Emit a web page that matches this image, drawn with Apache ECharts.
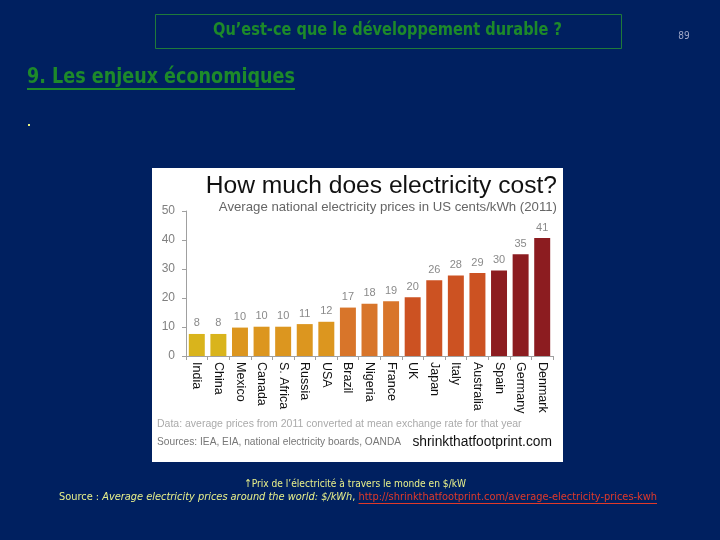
<!DOCTYPE html>
<html>
<head>
<meta charset="utf-8">
<style>
  html, body { margin: 0; padding: 0; background: #002060; }
  #chart { width: 720px; height: 540px; }
</style>
<script src="https://cdn.jsdelivr.net/npm/echarts@6/dist/echarts.min.js"></script>
</head>
<body>
<div id="chart"></div>
<script>
// ---- data ----
const countries = ["India", "China", "Mexico", "Canada", "S. Africa", "Russia", "USA", "Brazil", "Nigeria", "France", "UK", "Japan", "Italy", "Australia", "Spain", "Germany", "Denmark"];
const prices = [7.6, 7.6, 9.8, 10.1, 10.1, 11.0, 11.8, 16.7, 18.0, 18.9, 20.3, 26.1, 27.8, 28.6, 29.5, 35.1, 40.7];
const yTicks = [0, 10, 20, 30, 40, 50];

// ---- style ----
const barColors = ["#d9b41c", "#d9b41c", "#dc961f", "#dc961f", "#dc961f", "#dc961f", "#dc961f",
  "#d8752a", "#d8752a", "#d8752a", "#cc5222", "#cc5222", "#cc5222", "#cc5222", "#8c1c20", "#8c1c20", "#8c1c20"];

const cond = '"DejaVu Sans Condensed", "DejaVu Sans", sans-serif';
const sans = '"Liberation Sans", "DejaVu Sans", sans-serif';

const mctx = document.createElement('canvas').getContext('2d');
function measure(text, font) { mctx.font = font; return mctx.measureText(text).width; }

// text fitted horizontally to a target width
function fitText(text, font, x0, width, y, fill, z) {
  const w = measure(text, font);
  return { type: 'text', z: z || 2, x: x0, y: y, scaleX: width / w,
    style: { text: text, x: 0, y: 0, align: 'left', verticalAlign: 'middle', fill: fill, font: font } };
}

const gfx = [
  { type: 'rect', z: -10, shape: { x: 152, y: 168, width: 411, height: 294 }, style: { fill: '#ffffff' } },
  { type: 'rect', z: 1, shape: { x: 155.5, y: 14.5, width: 466, height: 34 }, style: { fill: 'none', stroke: '#1f7a3a', lineWidth: 1 } },
  fitText('Qu\u2019est-ce que le développement durable ?', 'bold 17px ' + cond, 213, 349, 31, '#1d8a2a'),
  { type: 'text', z: 2, style: { text: '89', x: 684, y: 36, align: 'center', verticalAlign: 'middle', fill: '#a0a8c8', font: '10px ' + cond } },
  fitText('9. Les enjeux économiques', 'bold 21px ' + cond, 27, 268, 78, '#1d8a2a'),
  { type: 'rect', z: 2, shape: { x: 27, y: 88, width: 268, height: 2 }, style: { fill: '#1d8a2a' } },
  { type: 'rect', z: 2, shape: { x: 28, y: 124, width: 2, height: 2 }, style: { fill: '#e8f080' } },
  { type: 'text', z: 2, style: { text: 'How much does electricity cost?', x: 557, y: 186, align: 'right', verticalAlign: 'middle', fill: '#111111', font: '24.6px ' + sans } },
  { type: 'text', z: 2, style: { text: 'Average national electricity prices in US cents/kWh (2011)', x: 557, y: 207, align: 'right', verticalAlign: 'middle', fill: '#666666', font: '13.2px ' + sans } },
  { type: 'text', z: 2, style: { text: 'Data: average prices from 2011 converted at mean exchange rate for that year', x: 157, y: 424, align: 'left', verticalAlign: 'middle', fill: '#aaaaaa', font: '10.5px ' + sans } },
  { type: 'text', z: 2, style: { text: 'Sources: IEA, EIA, national electricity boards, OANDA', x: 157, y: 442, align: 'left', verticalAlign: 'middle', fill: '#777777', font: '10.2px ' + sans } },
  { type: 'text', z: 2, style: { text: 'shrinkthatfootprint.com', x: 552, y: 442, align: 'right', verticalAlign: 'middle', fill: '#111111', font: '13.8px ' + sans } },
  fitText('\u2191Prix de l\u2019électricité à travers le monde en $/kW', '11px ' + cond, 244, 222, 484, '#e8f08a')
];

// caption line 2: several segments fitted to span 59..657
(function () {
  const segs = [
    { t: 'Source : ', f: '11px ' + cond, c: '#e8f08a' },
    { t: 'Average electricity prices around the world: $/kWh', f: 'italic 11px ' + cond, c: '#e8f08a' },
    { t: ', ', f: '11px ' + cond, c: '#e8f08a' },
    { t: 'http://shrinkthatfootprint.com/average-electricity-prices-kwh', f: '11px ' + cond, c: '#e03a2a', u: true }
  ];
  const ws = segs.map(s => measure(s.t, s.f));
  const total = ws.reduce((a, b) => a + b, 0);
  const s = (657 - 59) / total;
  let x = 59;
  segs.forEach((sg, i) => {
    gfx.push({ type: 'text', z: 2, x: x, y: 497, scaleX: s,
      style: { text: sg.t, x: 0, y: 0, align: 'left', verticalAlign: 'middle', fill: sg.c, font: sg.f } });
    if (sg.u) gfx.push({ type: 'rect', z: 2, shape: { x: x, y: 503, width: ws[i] * s, height: 1 }, style: { fill: sg.c } });
    x += ws[i] * s;
  });
})();

const chart = echarts.init(document.getElementById('chart'), null, { renderer: 'canvas' });

const option = {
  backgroundColor: '#002060',
  animation: false,
  graphic: gfx,
  grid: { left: 186, right: 167, top: 211, bottom: 184, containLabel: false },
  xAxis: {
    type: 'category',
    data: countries,
    axisLine: { show: true, lineStyle: { color: '#a0a0a0', width: 1 } },
    axisTick: { show: true, length: 4, lineStyle: { color: '#a0a0a0' } },
    axisLabel: { rotate: -90, color: '#111111', fontSize: 12.5, fontFamily: sans, margin: 6, interval: 0 }
  },
  yAxis: {
    type: 'value',
    min: yTicks[0],
    max: yTicks[yTicks.length - 1],
    interval: yTicks[1] - yTicks[0],
    axisLine: { show: true, lineStyle: { color: '#a0a0a0', width: 1 } },
    axisTick: { show: true, length: 4, lineStyle: { color: '#a0a0a0' } },
    splitLine: { show: false },
    axisLabel: { color: '#808080', fontSize: 12, fontFamily: sans, margin: 11 }
  },
  series: [{
    type: 'bar',
    data: prices.map((v, i) => ({ value: v, itemStyle: { color: barColors[i] } })),
    barCategoryGap: '26%',
    label: {
      show: true,
      position: 'top',
      distance: 5,
      color: '#8a8a8a',
      fontSize: 11,
      fontFamily: sans,
      formatter: p => Math.round(p.value)
    }
  }]
};

chart.setOption(option);
</script>
</body>
</html>
